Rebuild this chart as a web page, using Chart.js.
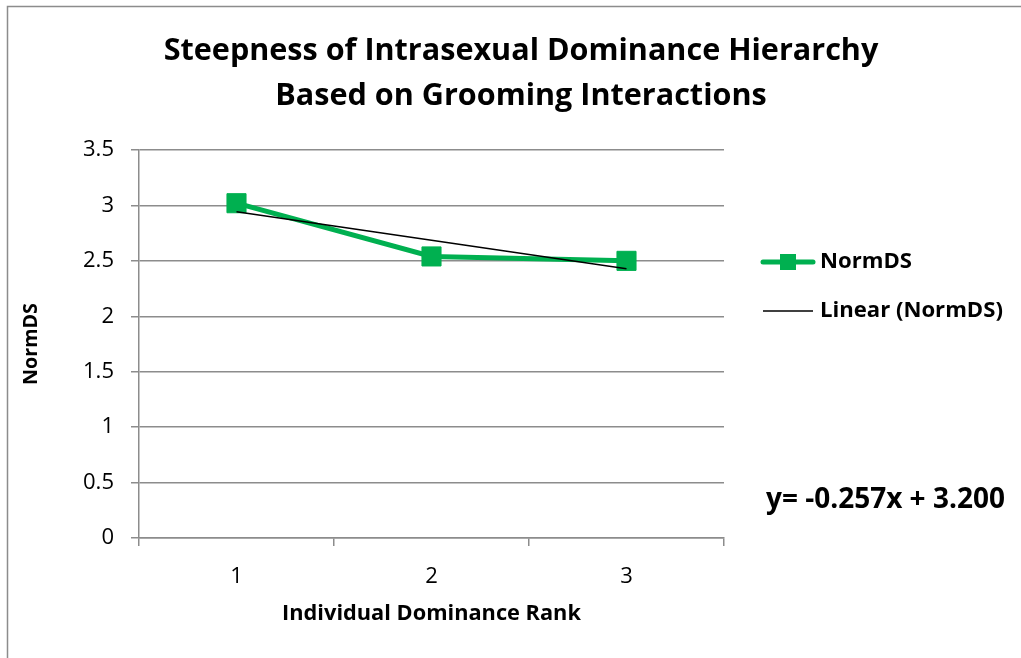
<!DOCTYPE html>
<html>
<head>
<meta charset="utf-8">
<script src="https://cdn.jsdelivr.net/npm/chart.js@4"></script>
<style>
html,body{margin:0;padding:0;background:#fff;}
#wrap{position:relative;width:1021px;height:658px;}
</style>
</head>
<body>
<div id="wrap"><canvas id="c" width="1021" height="658"></canvas></div>
<script>
const categories = ['1', '2', '3'];
const normDS = [3.02, 2.54, 2.50];
const linearNormDS = [2.943, 2.686, 2.429];
const yTicks = [0, 0.5, 1, 1.5, 2, 2.5, 3, 3.5];
const titleLines = ['Steepness of Intrasexual Dominance Hierarchy', 'Based on Grooming Interactions'];
const seriesNames = ['NormDS', 'Linear (NormDS)'];
const equationText = 'y= -0.257x + 3.200';
const xTitle = 'Individual Dominance Rank';
const yTitle = 'NormDS';

const FONT = '"Open Sans", Lato, sans-serif';
const GREEN = '#00B050';
const GRID = '#8c8c8c';

// font size so that a text gets the width it has in the reference
const mctx = document.createElement('canvas').getContext('2d');
function fitSize(text, weight, target) {
  mctx.font = weight + ' 100px ' + FONT;
  return 100 * target / mctx.measureText(text).width;
}
const titleSize = fitSize(titleLines[0], 'bold', 715);
const tickSize = fitSize('3.5', 'normal', 31);
const xTitleSize = fitSize(xTitle, 'bold', 299);
const yTitleSize = fitSize(yTitle, 'bold', 82);
const legendSize = fitSize(seriesNames[1], 'bold', 183);
const eqSize = fitSize(equationText, 'bold', 239);

const overlay = {
  id: 'overlay',
  beforeDraw(chart) {
    const ctx = chart.ctx;
    ctx.save();
    ctx.fillStyle = '#fff';
    ctx.fillRect(0, 0, chart.width, chart.height);
    ctx.strokeStyle = '#8c8c8c';
    ctx.lineWidth = 1.5;
    ctx.strokeRect(7.5, 6.5, 1100, 800);
    ctx.restore();
  },
  afterDraw(chart) {
    const ctx = chart.ctx;
    ctx.save();
    ctx.fillStyle = '#000';
    ctx.textAlign = 'center';
    ctx.textBaseline = 'alphabetic';
    ctx.font = 'bold ' + titleSize + 'px ' + FONT;
    ctx.fillText(titleLines[0], 521, 60);
    ctx.fillText(titleLines[1], 521, 105);

    // legend
    ctx.textAlign = 'left';
    ctx.textBaseline = 'middle';
    ctx.font = 'bold ' + legendSize + 'px ' + FONT;
    ctx.strokeStyle = GREEN;
    ctx.lineWidth = 5;
    ctx.lineCap = 'round';
    ctx.beginPath(); ctx.moveTo(763, 262); ctx.lineTo(813, 262); ctx.stroke();
    ctx.fillStyle = GREEN;
    ctx.fillRect(780, 254, 16, 16);
    ctx.fillStyle = '#000';
    ctx.fillText(seriesNames[0], 820, 262);
    ctx.strokeStyle = '#000';
    ctx.lineWidth = 1.5;
    ctx.lineCap = 'butt';
    ctx.beginPath(); ctx.moveTo(763, 311); ctx.lineTo(813, 311); ctx.stroke();
    ctx.fillText(seriesNames[1], 820, 311);

    ctx.font = 'bold ' + eqSize + 'px ' + FONT;
    ctx.fillText(equationText, 766, 500);
    ctx.restore();
  }
};

new Chart(document.getElementById('c'), {
  type: 'line',
  data: {
    labels: categories,
    datasets: [
      {
        label: seriesNames[0],
        data: normDS,
        borderColor: GREEN,
        backgroundColor: GREEN,
        borderWidth: 5,
        pointStyle: 'rect',
        pointRadius: 13.5,
        pointBorderWidth: 1,
        pointBackgroundColor: GREEN,
        pointBorderColor: GREEN,
        tension: 0,
        order: 2
      },
      {
        label: seriesNames[1],
        data: linearNormDS,
        borderColor: '#000',
        borderWidth: 1.5,
        pointRadius: 0,
        tension: 0,
        order: 1
      }
    ]
  },
  options: {
    responsive: false,
    animation: false,
    layout: { padding: { left: 0, right: 297, top: 150, bottom: 0 } },
    plugins: { legend: { display: false }, title: { display: false }, tooltip: { enabled: false } },
    scales: {
      x: {
        type: 'category',
        offset: true,
        grid: { display: true, drawOnChartArea: false, offset: true, tickLength: 8, color: GRID, lineWidth: 1.5 },
        border: { color: GRID, width: 1.5 },
        ticks: { color: '#000', font: { family: FONT, size: tickSize }, padding: 17 },
        title: { display: true, text: xTitle, color: '#000', font: { family: FONT, size: xTitleSize, weight: 'bold' }, padding: { top: 4, bottom: 44 - xTitleSize * 0.6 } },
        afterFit(scale) { scale.height = 120; }
      },
      y: {
        min: 0, max: 3.5,
        afterBuildTicks(scale) { scale.ticks = yTicks.map(v => ({ value: v })); },
        grid: { color: GRID, lineWidth: 1.5, tickLength: 8 },
        border: { color: GRID, width: 1.5 },
        ticks: { color: '#000', font: { family: FONT, size: tickSize }, padding: 17, callback: v => String(v) },
        title: { display: true, text: yTitle, color: '#000', font: { family: FONT, size: yTitleSize, weight: 'bold' }, padding: { top: 31 - yTitleSize * 0.6, bottom: 0 } },
        afterFit(scale) { scale.width = 139; }
      }
    }
  },
  plugins: [overlay]
});
</script>
</body>
</html>
